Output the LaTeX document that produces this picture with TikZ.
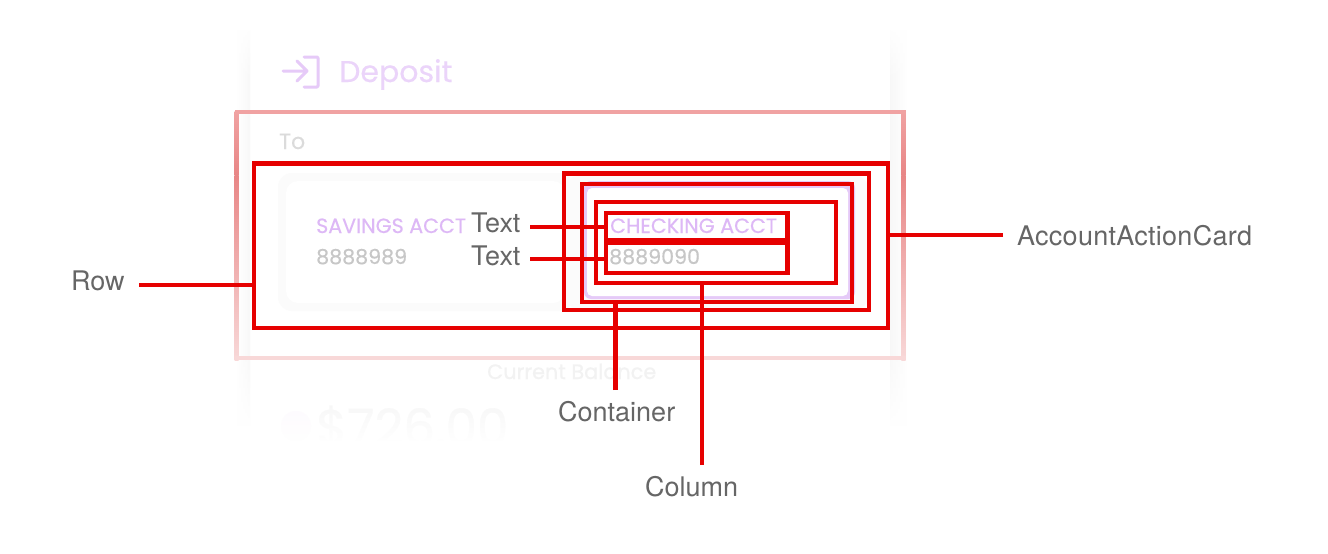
\documentclass[tikz,border=0pt]{standalone}
\usepackage{fontspec}
\setmainfont{TeX Gyre Heros}
\newfontfamily\pop[FakeBold=0.35]{Poppins}
\usetikzlibrary{fadings,calc}
\definecolor{lab}{HTML}{666666}
\definecolor{redl}{HTML}{E60000}
\definecolor{lil}{HTML}{DDB8F6}
\definecolor{frtop}{HTML}{F0A2A2}
\definecolor{frmid}{HTML}{E88686}
\definecolor{frbot}{HTML}{F8D8D8}
\tikzset{
  redbox/.style={draw=redl,line width=4.3pt,inner sep=0pt,outer sep=0pt,fill=none},
  conn/.style={draw=redl,line width=4.3pt},
  lbl/.style={text=lab,font=\fontsize{27}{27}\selectfont,inner sep=0pt,anchor=base west},
  faint/.style={inner sep=0pt,anchor=base west,font=\pop\fontsize{#1}{#1}\selectfont},
}
\begin{document}
\begin{tikzpicture}[x=1pt,y=-1pt]
\useasboundingbox (0,0) rectangle (1328,554);
\fill[white] (0,0) rectangle (1328,554);
% blurred card shadow
\shade[left color=white,right color=black!3] (236,30) rectangle (250,425);
\shade[left color=black!3,right color=white] (890,30) rectangle (908,425);
\fill[white,path fading=south] (230,22) rectangle (915,82);
\fill[white,path fading=north] (230,345) rectangle (915,430);
% icon and heading
\draw[draw=lil!75,line width=3pt,line cap=round,line join=round,rounded corners=1pt]
  (304,57) -- (318,57) -- (318,87) -- (304,87);
\draw[draw=lil!75,line width=3pt,line cap=round,line join=round]
  (283,71) -- (307,71) (297,61) -- (307,71) -- (297,81);
\node[faint=30,text=lil!60] (dep) at (339,82) {Deposit};
\node[faint=22,text=black!14] (to) at (279,149) {To};
% cards
\fill[black!1.5,rounded corners=14pt] (278,173) rectangle (573,311);
\fill[white,rounded corners=12pt] (286,181) rectangle (565,303);
\fill[black!1.5,rounded corners=12pt] (566,176) rectangle (868,309);
\fill[lil!75,rounded corners=7pt] (584,181) rectangle (855,299);
\fill[white,rounded corners=5pt] (587,188) rectangle (848,296);
\node[faint=20.6,text=lil] (sav) at (316,233) {SAVINGS ACCT};
\node[faint=20.6,text=black!22] (savn) at (316,264) {8888989};
\node[faint=20.6,text=lil] (chk) at (610,233) {CHECKING ACCT};
\node[faint=20.6,text=black!22] (chkn) at (609,264) {8889090};
\node[faint=20.8,text=black!5] (bal) at (487,379) {Current Balance};
\node[faint=50,text=black!3.5] (amt) at (316,445) {\$726.00};
\fill[lil!7] (296,426) circle (15);
\fill[white,path fading=north] (270,398) rectangle (530,442);
\fill[white] (270,441) rectangle (530,465);
% faded outer frame
\shade[top color=frtop,bottom color=frmid] (234.5,111.5) rectangle (238.7,175);
\shade[top color=frmid,bottom color=frbot] (234.5,175) rectangle (238.7,360);
\shade[top color=frtop,bottom color=frmid] (901.3,111.5) rectangle (905.5,175);
\shade[top color=frmid,bottom color=frbot] (901.3,175) rectangle (905.5,360);
\fill[frtop] (234.5,109.7) rectangle (905.5,113.9);
\fill[frbot] (234.5,355.8) rectangle (905.5,360);
% boxes
\node[redbox,minimum width=634pt,minimum height=164.5pt] (row) at (571,245.7) {};
\node[redbox,minimum width=304.5pt,minimum height=136.5pt] (acct) at (716.5,241.7) {};
\node[redbox,minimum width=270pt,minimum height=117.5pt] (cont) at (717,243) {};
\node[redbox,minimum width=240pt,minimum height=81pt] (colm) at (715.7,242.5) {};
\node[redbox,minimum width=181.5pt,minimum height=27.5pt] (txa) at (696.7,226.5) {};
\node[redbox,minimum width=181.5pt,minimum height=29.5pt] (txb) at (696.7,258) {};
% labels
\node[lbl] (lrow) at (71,290) {Row};
\node[lbl] (ltxa) at (471,232.6) {Text};
\node[lbl] (ltxb) at (471,265) {Text};
\node[lbl] (lcont) at (558,421) {Container};
\node[lbl] (lcolm) at (645,496) {Column};
\node[lbl] (lacct) at (1017,245) {\addfontfeature{LetterSpace=1}AccountActionCard};
% connector free ends
\coordinate (crow) at (139,285);
\coordinate (ctxa) at (530,227.3);
\coordinate (ctxb) at (530,258.7);
\coordinate (ccont) at (615.5,390);
\coordinate (ccolm) at (702,465);
\coordinate (cacct) at (1003,235);
\draw[conn] (crow) -- (crow -| row.west);
\draw[conn] (ctxa) -- (ctxa -| txa.west);
\draw[conn] (ctxb) -- (ctxb -| txb.west);
\draw[conn] (ccont) -- (ccont |- cont.south);
\draw[conn] (ccolm) -- (ccolm |- colm.south);
\draw[conn] (cacct) -- (cacct -| row.east);
\end{tikzpicture}
\end{document}
